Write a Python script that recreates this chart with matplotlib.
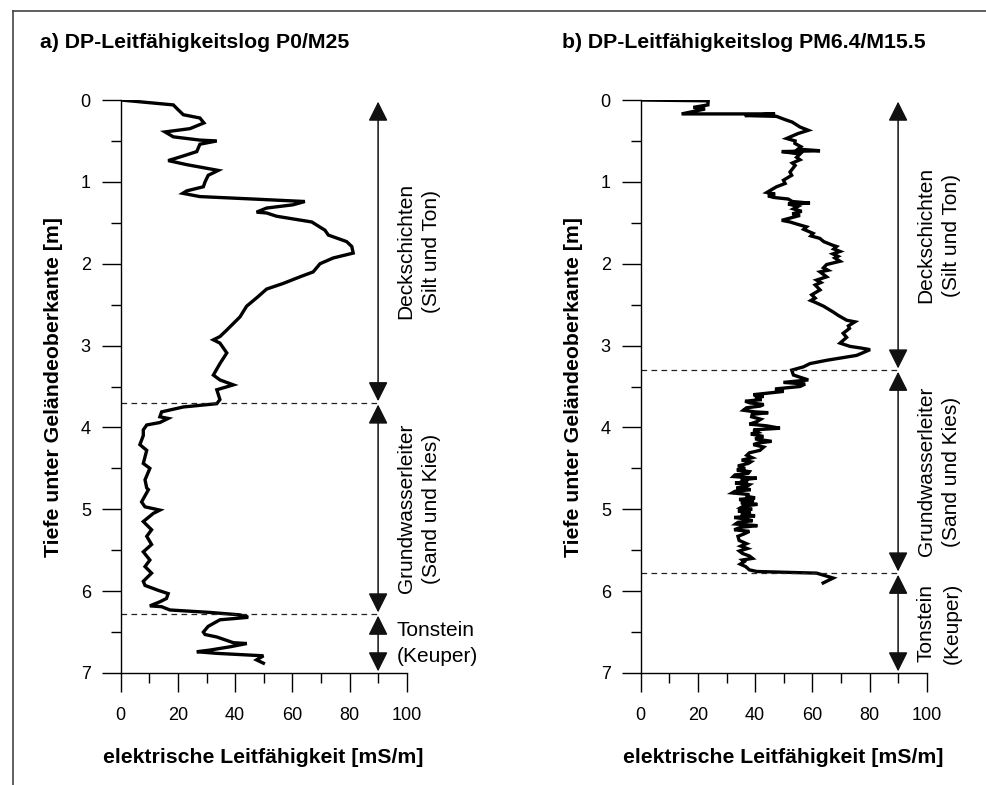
import numpy as np
import matplotlib
matplotlib.use("Agg")
import matplotlib.pyplot as plt
from matplotlib.lines import Line2D
from matplotlib.ticker import MultipleLocator

plt.rcParams['font.family'] = ['Liberation Sans', 'DejaVu Sans']

# --- Log a) P0/M25: Leitfaehigkeit [mS/m] und Tiefe [m]
ec_a = [0, 18.4, 20.1, 21.9, 27.7, 29.1, 24.2, 15.5, 18.4, 27.7, 33.6, 27.7, 26.6, 21.3,
        16.6, 23.1, 34.1, 30.6, 29.5, 28.9, 23.1, 21.7, 27.7, 46.4, 64.4, 60.3, 51.0, 47.5,
        51.0, 54.5, 66.8, 71.4, 72.6, 79.0, 80.8, 81.3, 74.3, 69.7, 67.3, 62.7, 56.9, 51.0,
        48.1, 44.0, 41.7, 39.4, 37.1, 34.7, 32.4, 34.7, 37.1, 34.7, 32.4, 34.7, 39.4, 33.6,
        34.7, 33.6, 21.9, 14.3, 13.7, 16.6, 13.7, 9.1, 7.9, 7.9, 6.7, 9.1, 7.9, 10.2,
        8.5, 9.1, 9.7, 7.3, 8.5, 13.7, 11.4, 7.9, 10.8, 9.1, 10.8, 7.9, 10.2, 8.5,
        10.8, 7.9, 8.5, 13.1, 16.6, 16.0, 13.7, 10.2, 14.3, 17.2, 31.2, 41.7, 44.6, 34.7,
        30.6, 28.9, 29.5, 33.6, 39.4, 44.1, 38.2, 31.2, 26.6, 33.6, 49.9, 47.5, 49.9]
depth_a = [0, 0.06, 0.12, 0.18, 0.22, 0.28, 0.35, 0.39, 0.45, 0.49, 0.50, 0.54, 0.63, 0.69,
           0.74, 0.79, 0.86, 0.92, 1.0, 1.06, 1.11, 1.14, 1.18, 1.21, 1.24, 1.28, 1.32, 1.37,
           1.38, 1.42, 1.49, 1.59, 1.65, 1.73, 1.79, 1.87, 1.93, 2.0, 2.10, 2.16, 2.24, 2.31,
           2.40, 2.52, 2.65, 2.73, 2.81, 2.89, 2.93, 2.97, 3.09, 3.22, 3.36, 3.42, 3.48, 3.54,
           3.66, 3.71, 3.75, 3.81, 3.87, 3.89, 3.94, 3.97, 4.03, 4.10, 4.21, 4.28, 4.44, 4.50,
           4.64, 4.74, 4.76, 4.91, 4.97, 5.01, 5.05, 5.15, 5.25, 5.33, 5.43, 5.52, 5.62, 5.70,
           5.78, 5.88, 5.93, 5.99, 6.03, 6.09, 6.13, 6.18, 6.19, 6.23, 6.26, 6.29, 6.32, 6.35,
           6.43, 6.50, 6.53, 6.56, 6.63, 6.64, 6.68, 6.72, 6.74, 6.76, 6.79, 6.84, 6.88]

# --- Log b) PM6.4/M15.5
ec_b = [0, 23.6, 23.5, 18.4, 22.5, 14.3, 47.0, 36.4, 47.5, 50.5, 53.0, 55.7, 58.6, 55.0,
        51.0, 54.0, 53.9, 56.0, 55.0, 62.7, 49.3, 55.7, 54.5, 55.7, 53.0, 54.0, 52.2, 52.8,
        49.9, 50.5, 47.5, 46.0, 44.1, 47.0, 44.5, 46.4, 51.6, 53.0, 59.2, 51.5, 55.0, 53.4,
        56.3, 53.0, 55.7, 49.3, 52.2, 55.0, 58.0, 57.0, 60.3, 59.5, 62.6, 64.0, 66.8, 68.5,
        67.5, 69.7, 67.2, 69.0, 67.9, 69.7, 65.0, 63.9, 65.5, 62.7, 65.0, 61.5, 63.0, 61.0,
        62.7, 59.8, 61.0, 59.5, 60.9, 64.0, 67.3, 69.0, 72.0, 74.9, 72.6, 73.0, 70.8, 72.0,
        69.7, 73.2, 77.0, 80.2, 75.5, 65.0, 59.2, 56.9, 52.8, 53.4, 58.6, 49.9, 57.5, 55.7,
        47.0, 50.0, 39.4, 43.0, 40.0, 42.3, 36.5, 38.2, 43.0, 41.7, 37.0, 35.9, 40.0, 44.6,
        39.0, 38.8, 42.0, 40.6, 38.0, 44.0, 48.7, 39.4, 41.0, 38.5, 42.9, 40.0, 45.8, 41.0,
        39.4, 43.0, 41.7, 38.0, 37.1, 39.0, 35.3, 38.5, 37.6, 34.0, 36.5, 33.6, 38.0, 37.6,
        33.0, 32.4, 40.6, 35.0, 37.5, 33.0, 38.0, 37.1, 33.5, 38.5, 33.0, 32.0, 38.0, 36.7,
        40.0, 34.4, 39.6, 35.0, 40.8, 36.0, 35.0, 39.0, 34.0, 38.5, 35.0, 40.0, 32.7, 37.0,
        39.1, 34.0, 33.2, 40.8, 35.0, 32.7, 38.0, 36.2, 34.0, 34.4, 37.0, 35.0, 37.3, 34.5,
        35.6, 38.0, 39.1, 35.5, 36.2, 34.8, 36.7, 38.0, 40.6, 61.5, 67.3, 63.8]
depth_b = [0, 0.01, 0.06, 0.09, 0.11, 0.17, 0.17, 0.19, 0.20, 0.24, 0.27, 0.33, 0.37, 0.41,
           0.47, 0.50, 0.53, 0.57, 0.60, 0.62, 0.63, 0.66, 0.70, 0.73, 0.77, 0.80, 0.88, 0.92,
           0.98, 1.02, 1.06, 1.09, 1.13, 1.15, 1.17, 1.19, 1.21, 1.24, 1.26, 1.27, 1.30, 1.33,
           1.36, 1.39, 1.41, 1.47, 1.49, 1.52, 1.55, 1.58, 1.63, 1.66, 1.69, 1.73, 1.77, 1.79,
           1.82, 1.85, 1.88, 1.91, 1.93, 1.97, 2.01, 2.05, 2.08, 2.10, 2.16, 2.20, 2.23, 2.26,
           2.32, 2.38, 2.42, 2.45, 2.47, 2.52, 2.59, 2.63, 2.69, 2.71, 2.76, 2.79, 2.85, 2.90,
           2.97, 3.01, 3.03, 3.05, 3.12, 3.18, 3.22, 3.26, 3.30, 3.36, 3.42, 3.45, 3.47, 3.50,
           3.53, 3.56, 3.60, 3.62, 3.64, 3.66, 3.68, 3.70, 3.72, 3.74, 3.76, 3.79, 3.81, 3.82,
           3.84, 3.87, 3.90, 3.93, 3.96, 3.98, 4.01, 4.03, 4.06, 4.08, 4.11, 4.14, 4.17, 4.19,
           4.21, 4.24, 4.28, 4.31, 4.34, 4.37, 4.40, 4.42, 4.44, 4.47, 4.50, 4.52, 4.54, 4.56,
           4.58, 4.60, 4.62, 4.64, 4.66, 4.68, 4.70, 4.72, 4.74, 4.76, 4.78, 4.80, 4.82, 4.84,
           4.86, 4.88, 4.90, 4.92, 4.94, 4.96, 4.98, 5.00, 5.02, 5.04, 5.06, 5.08, 5.10, 5.12,
           5.14, 5.16, 5.18, 5.20, 5.22, 5.25, 5.27, 5.30, 5.33, 5.38, 5.42, 5.45, 5.48, 5.51,
           5.54, 5.57, 5.60, 5.62, 5.64, 5.67, 5.70, 5.74, 5.76, 5.78, 5.84, 5.90]

# Schichtgrenzen [m] und Beschriftung
bounds_a = [0, 3.7, 6.28, 7]
bounds_b = [0, 3.3, 5.78, 7]
layers = ["Deckschichten\n(Silt und Ton)", "Grundwasserleiter\n(Sand und Kies)",
          "Tonstein\n(Keuper)"]

titles = ["a) DP-Leitfähigkeitslog P0/M25", "b) DP-Leitfähigkeitslog PM6.4/M15.5"]
xlab = "elektrische Leitfähigkeit [mS/m]"
ylab = "Tiefe unter Geländeoberkante [m]"

W, H = 987, 785
fig = plt.figure(figsize=(W / 100, H / 100), dpi=100)

# Rahmen oben/links
fig.add_artist(Line2D([13 / W, 1], [1 - 11 / H, 1 - 11 / H], transform=fig.transFigure,
                      color='#444444', lw=1.2))
fig.add_artist(Line2D([13 / W, 13 / W], [0, 1 - 11 / H], transform=fig.transFigure,
                      color='#444444', lw=1.2))


def panel(left, ec, depth, bounds, title, tx, ton_rot):
    ax = fig.add_axes([left / W, 1 - 673 / H, 286 / W, 573 / H])
    ax.plot(ec, depth, color='black', lw=2.4, solid_joinstyle='miter')
    ax.set_xlim(0, 100)
    ax.set_ylim(7, 0)
    ax.spines['top'].set_visible(False)
    ax.spines['right'].set_visible(False)
    ax.spines['left'].set_linewidth(1.0)
    ax.spines['bottom'].set_linewidth(1.0)
    ax.xaxis.set_major_locator(MultipleLocator(20))
    ax.xaxis.set_minor_locator(MultipleLocator(10))
    ax.yaxis.set_major_locator(MultipleLocator(1))
    ax.yaxis.set_minor_locator(MultipleLocator(0.5))
    ax.tick_params(which='major', direction='out', length=13.5, width=1.0, labelsize=13)
    ax.tick_params(which='minor', direction='out', length=7.5, width=1.0)
    ax.tick_params(axis='y', which='major', pad=8)
    ax.tick_params(axis='x', which='major', pad=11)
    ax.set_xlabel(xlab, fontsize=15.3, fontweight='bold', labelpad=17)
    ax.set_ylabel(ylab, fontsize=15.3, fontweight='bold', labelpad=13)

    # Schichtgrenzen
    for b in bounds[1:-1]:
        ax.plot([0, 90], [b, b], color='#222222', lw=0.9, ls=(0, (4.5, 3.5)))
    # Pfeile
    for i in range(3):
        ax.annotate('', xy=(90, bounds[i] + 0.02), xytext=(90, bounds[i + 1] - 0.02),
                    arrowprops=dict(arrowstyle='<|-|>,head_length=1.2,head_width=0.6',
                                    mutation_scale=10, color='#111111', lw=1.1,
                                    shrinkA=0, shrinkB=0), annotation_clip=False)
        mid = (bounds[i] + bounds[i + 1]) / 2
        if i == 2 and not ton_rot:
            ax.text(96.5, mid, layers[i], ha='left', va='center', fontsize=15,
                    linespacing=1.45, clip_on=False)
        else:
            ax.text(104.3, mid, layers[i], ha='center', va='center', rotation=90,
                    fontsize=15, linespacing=1.45, multialignment='center', clip_on=False)
    fig.text(tx / W, 1 - 43 / H, title, fontsize=15.3, fontweight='bold',
             ha='left', va='center')
    return ax


panel(120.7, ec_a, depth_a, bounds_a, titles[0], 40, False)
panel(640.7, ec_b, depth_b, bounds_b, titles[1], 562, True)

fig.savefig("out.png", dpi=100)
